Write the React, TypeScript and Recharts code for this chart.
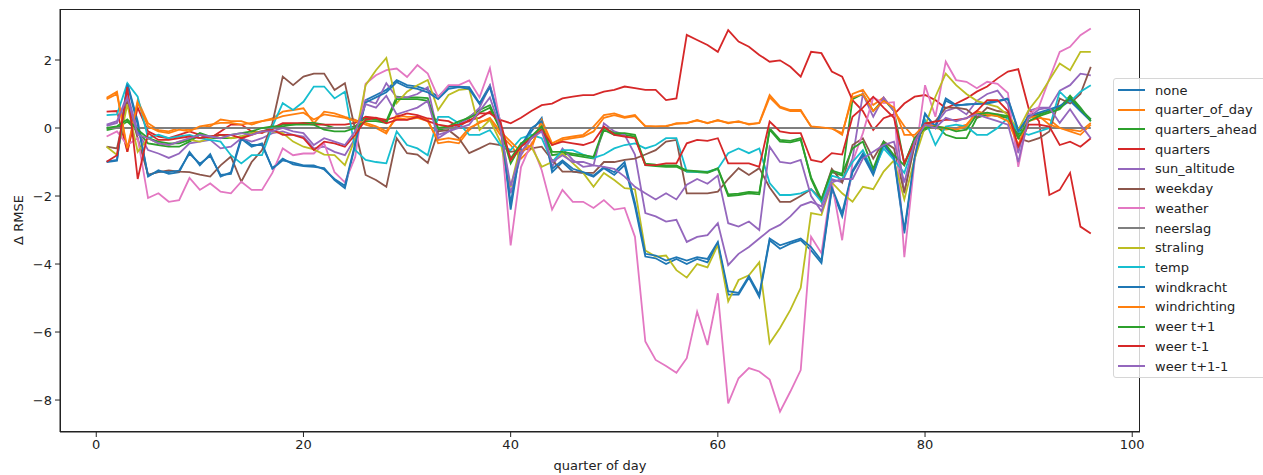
import { LineChart, Line, XAxis, YAxis } from 'recharts';

const quarter = [
  1, 2, 3, 4, 5, 6, 7, 8, 9, 10, 11, 12, 13, 14, 15, 16, 17, 18, 19, 20, 21, 22, 23, 24,
  25, 26, 27, 28, 29, 30, 31, 32, 33, 34, 35, 36, 37, 38, 39, 40, 41, 42, 43, 44, 45, 46, 47, 48,
  49, 50, 51, 52, 53, 54, 55, 56, 57, 58, 59, 60, 61, 62, 63, 64, 65, 66, 67, 68, 69, 70, 71, 72,
  73, 74, 75, 76, 77, 78, 79, 80, 81, 82, 83, 84, 85, 86, 87, 88, 89, 90, 91, 92, 93, 94, 95, 96,
];

const none = [
  -0.99, -0.94, 1.32, 0.2,
  -1.43, -1.24, -1.35, -1.3, -0.7, -1.1, -0.77, -1.43, -1.3, -0.27, -0.5, -0.5, -1.18,
  -0.9, -1.07, -1.12, -1.14, -1.18, -1.53, -1.77, -0.5,
  0.82, 0.97, 1.12, 1.41, 1.26, 1.22, 1.12, 0.92, 1.22, 1.22, 1.2, 0.73, 1.26, 0.2,
  -2.4, -0.5, -0.1, 0.3, -1.3, -1.0, -1.28, -1.32, -1.43, -1.18, -1.38, -1.09, -2.3,
  -3.78, -3.83, -4.0, -3.85, -4.0, -3.85, -3.95, -3.4, -4.9, -4.9, -4.4, -4.97, -3.3, -3.55, -3.4, -3.3, -3.6, -3.97, -1.8, -2.6,
  -1.3, -0.8, -1.38, -0.5, -0.9, -3.1, -0.9, 0.43, 0.0, 0.87, 0.68, 0.68, 0.72, 0.75, 0.8, 0.87, -0.06, 0.3, 0.4, 0.5, 0.6, 0.8, 0.5, 0.2,
];

const quarterOfDay = [
  0.89, 1.07, -0.7, 0.82,
  0.14, -0.06, -0.1, 0.0, -0.05, 0.0, 0.05, 0.25, 0.2, 0.2, 0.1, 0.2, 0.28,
  0.48, 0.53, 0.58, 0.14, 0.48, 0.43, 0.33, 0.24,
  0.1, 0.0, -0.16, 0.38, 0.33, 0.33, 0.25, -0.45, -0.4, -0.45, -0.06, 0.19, 0.24, -0.2,
  -0.5, -0.9, -0.6, 0.24, -0.45, -0.3, -0.25, -0.2, 0.04, 0.38, 0.43, 0.33, 0.38,
  0.04, 0.04, 0.04, 0.14, 0.14, 0.24, 0.14, 0.24, 0.14, 0.2, 0.1, 0.15, 0.97, 0.63, 0.53, 0.53, 0.04, 0.0, 0.0, -0.2,
  1.0, 1.12, 0.68, 0.9, 0.5, 0.05, -0.3, 0.04, 0.0, -0.05, 0.0, 0.1, 0.45, 0.35, 0.4, 0.3, -0.3, 0.2, 0.3, 0.25, 0.0, -0.05, -0.1, 0.15,
];

const quartersAhead = [
  -0.06, 0.0, 0.19, -0.1,
  -0.45, -0.5, -0.55, -0.55, -0.4, -0.2, -0.3, -0.3, -0.3, -0.25, -0.15, -0.1, 0.0,
  0.1, 0.1, 0.15, 0.15, 0.1, 0.0, 0.0, 0.05,
  0.3, 0.25, 0.2, 0.92, 0.9, 0.9, 0.88, -0.06, 0.0, 0.14, 0.33, 0.53, 0.67, 0.0,
  -1.04, -0.5, -0.3, 0.0, -0.8, -0.75, -0.8, -0.85, -0.9, -0.06, -0.2, -0.2, -0.25,
  -1.09, -1.12, -1.14, -1.14, -1.28, -1.3, -1.32, -1.2, -2.0, -1.97, -1.92, -1.95, -0.01, -0.35, -0.38, -0.3, -1.5, -2.17, -1.3, -1.4,
  0.85, 1.0, 0.5, 0.85, 0.5, -1.05, -0.3, -0.05, 0.1, -0.2, -0.3, -0.3, 0.3, 0.4, 0.35, 0.3, -0.2, 0.3, 0.4, 0.5, 0.6, 0.95, 0.6, 0.2,
];

const quarters = [
  0.48, 0.5, -0.7, 0.6,
  -0.1, -0.25, -0.3, -0.2, -0.1, -0.2, -0.3, -0.1, 0.1, 0.1, -0.1, -0.15, 0.0,
  0.14, 0.14, 0.14, 0.1, 0.1, 0.1, 0.1, 0.15,
  0.33, 0.3, 0.24, 0.33, 0.43, 0.38, 0.28, 0.24, 0.2, 0.04, 0.24, 0.3, 0.48, 0.24,
  0.14, 0.3, 0.5, 0.67, 0.72, 0.87, 0.92, 0.97, 0.97, 1.07, 1.12, 1.22, 1.17,
  1.12, 1.12, 0.82, 0.87, 2.74, 2.59, 2.44, 2.24, 2.88, 2.54, 2.39, 2.15, 1.95, 1.99, 1.8, 1.51, 2.24, 2.2, 1.66, 1.51,
  0.82, 0.5, -0.06, 0.29, 0.4, 0.72, 0.92, 0.97, 0.82, 0.58, 0.72, 0.87, 1.07, 1.22, 1.46, 1.66, 1.73, 0.58, 0.2, -1.97, -1.82, -1.32, -2.9, -3.1,
];

const sunAltitude = [
  0.06, 0.15, 1.0, -0.1,
  -0.65, -0.75, -0.88, -0.75, -0.45, -0.4, -0.35, -0.6, -0.55, -0.3, -0.4, -0.3, -0.15,
  -0.1, -0.2, -0.25, -0.6, -0.55, -0.7, -0.8, -0.3,
  0.82, 0.72, 1.32, 0.9, 0.9, 1.0, 1.2, -0.2, -0.1, 0.1, 0.3, 0.6, 1.25, 0.1,
  -1.92, -0.8, -0.3, 0.04, -1.14, -0.6, -0.94, -1.14, -1.1, 0.14, -0.1, -0.2, -0.78,
  -2.5, -2.6, -2.75, -2.7, -3.35, -3.2, -3.15, -2.8, -4.03, -3.7, -3.5, -3.25, -3.0, -2.85, -2.6, -2.28, -2.17, -2.3, -1.5, -1.6,
  -0.9, 1.0, 0.33, 0.9, 0.5, -1.92, -0.3, 0.1, 0.1, 0.5, 0.6, 0.4, 0.8, 1.0, 1.1, 0.7, -0.74, 0.5, 0.6, 0.6, 1.1, 1.26, 1.6, 1.55,
];

const weekday = [
  -0.55, -0.6, 0.8, -0.3,
  -1.37, -1.3, -1.25, -1.28, -1.3, -1.37, -1.43, -1.1, -0.84, -1.58, -1.0, -0.65, 0.14,
  1.51, 1.26, 1.51, 1.6, 1.6, 1.12, 1.32, -0.06,
  -1.38, -1.53, -1.73, -0.3, -0.74, -0.78, -1.03, -0.1, -0.06, -0.3, -0.74, -0.6, -0.45, -0.5,
  -0.7, -0.65, -0.6, -0.55, -0.94, -1.28, -1.28, -1.32, -1.32, -1.0, -1.0, -0.94, -0.9,
  -0.78, -0.65, -0.4, -0.35, -1.92, -1.92, -1.92, -1.87, -1.5, -1.18, -1.38, -1.18, -1.75, -2.17, -2.17, -2.0, -1.8, -2.1, -1.2, -1.6,
  -0.5, -0.3, -0.9, -0.4, -0.6, -1.9, -0.5, 0.1, 0.2, 0.6, 0.6, 0.55, 0.3, 0.6, 0.5, 0.45, -0.3, -0.4, -0.3, -0.1, 0.87, 0.72, 1.0, 1.8,
];

const weather = [
  -0.25, -0.1, -0.5, -0.3,
  -2.06, -1.92, -2.17, -2.12, -1.47, -1.82, -1.63, -1.87, -1.92, -1.58, -1.82, -1.82, -1.32,
  -0.6, -0.8, -0.75, -0.75, -0.45, -1.3, -1.6, -0.85,
  1.3, 1.55, 1.7, 1.75, 1.5, 1.85, 1.6, 0.9, 1.26, 1.26, 1.4, 0.9, 1.76, 0.15,
  -3.45, -1.15, -0.45, -1.24, -2.4, -1.82, -2.17, -2.17, -2.35, -2.12, -2.4, -2.35, -3.2,
  -6.28, -6.82, -7.0, -7.2, -6.77, -5.4, -6.38, -4.86, -8.1, -7.36, -7.06, -7.16, -7.4, -8.34, -7.75, -7.12, -3.2, -3.68, -1.6, -3.3,
  -1.0, -0.15, 0.9, 0.73, 0.76, -3.8, -0.95, 1.26, 0.33, 1.95, 1.41, 1.36, 1.17, 1.36, 1.3, 1.03, -1.14, 0.38, 0.63, 1.45, 2.24, 2.39, 2.73, 2.93,
];

const neerslag = [
  0, 0, 0, 0, 0, 0, 0, 0, 0, 0, 0, 0, 0, 0, 0, 0, 0, 0, 0, 0, 0, 0, 0, 0,
  0, 0, 0, 0, 0, 0, 0, 0, 0, 0, 0, 0, 0, 0, 0, 0, 0, 0, 0, 0, 0, 0, 0, 0,
  0, 0, 0, 0, 0, 0, 0, 0, 0, 0, 0, 0, 0, 0, 0, 0, 0, 0, 0, 0, 0, 0, 0, 0,
  0, 0, 0, 0, 0, 0, 0, 0, 0, 0, 0, 0, 0, 0, 0, 0, 0, 0, 0, 0, 0, 0, 0, 0,
];

const straling = [
  -0.55, -0.79, 0.7, -0.7,
  -0.3, -0.45, -0.5, -0.4, -0.35, -0.4, -0.3, -0.2, -0.3, -0.25, -0.15, -0.1, -0.1,
  -0.15, -0.4, -0.55, -0.63, -0.78, -0.8, -1.09, -0.3,
  1.26, 1.7, 2.06, 0.73, 1.07, 1.26, 1.41, 0.53, 0.97, 1.12, 1.15, -0.06, 0.24, -0.4,
  -1.73, -0.45, -0.55, -1.14, -1.0, -0.74, -1.03, -1.32, -1.73, -1.32, -1.53, -1.77, -1.8,
  -3.6, -3.78, -3.75, -4.18, -4.4, -4.0, -4.1, -3.44, -5.1, -4.47, -4.33, -3.95, -6.33, -5.88, -5.35, -4.7, -2.5, -2.56, -1.6, -1.92,
  -2.17, -1.73, -1.8, -1.28, -0.95, -2.1, -0.9, 0.04, 0.92, 1.6, 1.26, 1.0, 0.8, 0.7, 0.62, 0.38, -0.06, 0.53, 0.92, 1.41, 1.9, 1.7, 2.24, 2.24,
];

const temp = [
  0.38, 0.4, 1.32, 0.92,
  -0.3, -0.2, -0.3, -0.25, -0.2, -0.3, -0.35, -0.4, -0.8, -1.04, -0.8, -0.8, 0.04,
  0.73, 0.53, 0.77, 1.22, 1.22, 0.87, 1.07, -0.65,
  -0.94, -1.0, -1.04, -0.1, -0.5, -0.6, -0.8, 0.33, 0.33, 0.14, -0.2, -0.2, -0.06, -0.5,
  -0.65, -0.3, -0.2, -0.3, -1.0, -0.65, -0.65, -0.78, -0.88, -0.78, -0.6, -0.5, -0.45,
  -0.6, -0.5, -0.3, -0.3, -1.28, -1.28, -1.28, -1.2, -0.74, -0.6, -0.74, -0.6, -1.62, -1.97, -1.97, -1.92, -1.8, -2.17, -1.4, -1.5,
  -1.0, -0.65, -1.28, -0.6, -0.94, -1.32, -0.4, 0.24, -0.5, 0.04, 0.1, 0.04, -0.2, -0.2, 0.0, 0.3, -0.1, -0.2, -0.1, 0.0, 1.07, 0.77, 1.07, 1.26,
];

const windkracht = [
  -1.0, -0.96, 1.28, 0.1,
  -1.4, -1.28, -1.3, -1.25, -0.75, -1.05, -0.82, -1.38, -1.35, -0.32, -0.55, -0.45, -1.2,
  -0.95, -1.02, -1.1, -1.1, -1.22, -1.5, -1.7, -0.45,
  0.75, 0.9, 1.05, 1.35, 1.2, 1.15, 1.05, 0.85, 1.15, 1.2, 1.15, 0.7, 1.2, 0.1,
  -2.2, -0.55, 0.0, 0.2, -1.2, -0.95, -1.2, -1.3, -1.4, -1.15, -1.3, -1.0, -2.2,
  -3.7, -3.75, -3.9, -3.8, -3.9, -3.8, -3.85, -3.35, -4.8, -4.85, -4.35, -4.9, -3.25, -3.45, -3.35, -3.25, -3.5, -3.9, -1.75, -2.5,
  -1.25, -0.75, -1.3, -0.45, -0.85, -3.0, -0.85, 0.4, 0.05, 0.8, 0.65, 0.7, 0.7, 0.72, 0.78, 0.85, -0.1, 0.35, 0.45, 0.55, 0.65, 0.85, 0.55, 0.25,
];

const windrichting = [
  0.85, 1.0, -0.6, 0.75,
  0.05, -0.1, -0.15, -0.05, -0.1, 0.05, 0.1, 0.15, 0.15, 0.1, 0.15, 0.2, 0.25,
  0.35, 0.4, 0.45, 0.25, 0.4, 0.35, 0.3, 0.2,
  0.15, 0.05, -0.1, 0.3, 0.25, 0.3, 0.2, -0.35, -0.3, -0.35, 0.0, 0.15, 0.3, -0.1,
  -0.4, -0.7, -0.5, 0.1, -0.5, -0.35, -0.3, -0.25, -0.1, 0.3, 0.38, 0.3, 0.35,
  0.06, 0.05, 0.06, 0.12, 0.15, 0.22, 0.15, 0.22, 0.16, 0.18, 0.12, 0.14, 0.9, 0.6, 0.5, 0.5, 0.05, 0.02, -0.02, -0.15,
  0.9, 1.0, 0.5, 0.8, 0.6, -0.2, -0.2, 0.1, 0.05, 0.0, -0.05, 0.05, 0.5, 0.4, 0.35, 0.2, -0.5, 0.3, 0.35, 0.1, 0.0, -0.1, -0.2, 0.1,
];

const weerTplus1 = [
  0.0, 0.05, 0.25, -0.05,
  -0.3, -0.4, -0.45, -0.45, -0.35, -0.15, -0.25, -0.2, -0.2, -0.15, -0.1, 0.0, 0.05,
  0.05, 0.1, 0.1, 0.1, -0.05, -0.1, -0.1, 0.0,
  0.2, 0.2, 0.15, 0.85, 0.85, 0.85, 0.8, 0.0, 0.05, 0.2, 0.3, 0.45, 0.6, -0.05,
  -0.9, -0.45, -0.25, 0.05, -0.7, -0.7, -0.75, -0.8, -0.85, 0.0, -0.15, -0.15, -0.2,
  -1.05, -1.08, -1.1, -1.1, -1.25, -1.27, -1.3, -1.18, -1.95, -1.93, -1.88, -1.9, -0.05, -0.4, -0.42, -0.35, -1.45, -2.1, -1.25, -1.35,
  -0.6, -0.4, -1.2, -0.4, -0.8, -1.1, -0.3, 0.0, 0.05, 0.0, -0.1, -0.05, 0.4, 0.45, 0.4, 0.35, -0.3, 0.2, 0.35, 0.45, 0.55, 0.9, 0.55, 0.25,
];

const weerTmin1 = [
  -0.99, -0.8, 1.2, -1.5,
  -0.15, -0.35, -0.35, -0.3, -0.25, -0.3, -0.25, -0.2, -0.2, -0.3, -0.2, -0.1, -0.05,
  -0.2, -0.2, -0.3, -0.65, -0.4, -0.45, -0.55, -0.2,
  0.24, 0.3, 0.14, 0.24, 0.24, 0.33, 0.2, 0.1, 0.05, 0.1, 0.2, 0.43, 0.43, 0.2,
  -0.94, -0.55, -0.3, -0.06, -0.5, -0.4, -0.45, -0.5, -0.4, 0.04, -0.2, -0.25, -0.3,
  -1.09, -1.09, -1.04, -1.04, -0.45, -0.35, -0.38, -0.3, -1.04, -1.04, -1.04, -1.14, 0.19, -0.1, -0.15, -0.15, -0.94, -1.0, -0.74, -0.78,
  0.33, 0.6, 0.92, 0.6, 0.3, -1.03, -0.4, 0.14, 0.19, 0.24, 0.24, 0.28, 0.5, 0.82, 0.82, 0.5, -0.55, 0.1, 0.1, 0.04, -0.5, -0.4, -0.55, -0.3,
];

const weerTplus1min1 = [
  0.1, 0.2, 0.9, -0.2,
  -0.3, -0.45, -0.5, -0.4, -0.3, -0.2, -0.25, -0.3, -0.2, -0.15, -0.2, -0.1, -0.1,
  0.0, -0.1, -0.15, -0.5, -0.3, -0.4, -0.5, -0.1,
  0.7, 0.6, 0.95, 0.4, 0.5, 0.6, 0.8, -0.3, -0.1, 0.0, 0.1, 0.5, 0.9, 0.0,
  -1.7, -0.7, -0.3, -0.1, -1.0, -0.8, -1.0, -1.0, -1.1, -1.14, -1.2, -1.43, -1.73,
  -1.92, -2.1, -1.92, -2.1, -1.67, -1.5, -1.64, -1.4, -2.8, -2.9, -2.75, -3.0, -0.55, -1.0, -1.04, -0.94, -2.0, -2.45, -1.6, -1.5,
  -1.5, -0.9, -0.7, -0.5, -0.4, -1.6, -0.4, 0.1, 0.0, 0.3, 0.2, 0.3, 0.4, 0.3, 0.2, 0.1, -1.0, 0.3, 0.55, 0.6, 0.15, 0.55, 0.1, -0.3,
];

const series = [
  { key: 'none', name: 'none', color: '#1f77b4', values: none },
  { key: 'quarter_of_day', name: 'quarter_of_day', color: '#ff7f0e', values: quarterOfDay },
  { key: 'quarters_ahead', name: 'quarters_ahead', color: '#2ca02c', values: quartersAhead },
  { key: 'quarters', name: 'quarters', color: '#d62728', values: quarters },
  { key: 'sun_altitude', name: 'sun_altitude', color: '#9467bd', values: sunAltitude },
  { key: 'weekday', name: 'weekday', color: '#8c564b', values: weekday },
  { key: 'weather', name: 'weather', color: '#e377c2', values: weather },
  { key: 'neerslag', name: 'neerslag', color: '#7f7f7f', values: neerslag },
  { key: 'straling', name: 'straling', color: '#bcbd22', values: straling },
  { key: 'temp', name: 'temp', color: '#17becf', values: temp },
  { key: 'windkracht', name: 'windkracht', color: '#1f77b4', values: windkracht },
  { key: 'windrichting', name: 'windrichting', color: '#ff7f0e', values: windrichting },
  { key: 'weer_tp1', name: 'weer t+1', color: '#2ca02c', values: weerTplus1 },
  { key: 'weer_tm1', name: 'weer t-1', color: '#d62728', values: weerTmin1 },
  { key: 'weer_tp1m1', name: 'weer t+1-1', color: '#9467bd', values: weerTplus1min1 },
];

const data = quarter.map((q, i) => {
  const row: Record<string, number> = { q };
  series.forEach(s => { row[s.key] = s.values[i]; });
  return row;
});

const FONT = 'DejaVu Sans';
const fmt = (v: number) => (v < 0 ? '\u2212' + Math.abs(v) : String(v));

export default function App() {
  return (
    <div style={{ position: 'absolute', left: 0, top: 0, width: 1263, height: 475, overflow: 'hidden', background: '#fff', fontFamily: FONT }}>
      <LineChart width={1263} height={475} data={data} margin={{ top: 9, right: 123, bottom: 0, left: 0 }}>
        <XAxis
          dataKey="q" type="number" domain={[-3.5, 100.75]} ticks={[0, 20, 40, 60, 80, 100]} allowDataOverflow
          height={43} tickSize={5} tickMargin={3} stroke="#222" tickFormatter={fmt}
          tick={{ fill: '#222', fontSize: 13, fontFamily: FONT }}
          label={{
            content: () => (
              <text x={600} y={465} textAnchor="middle" dominantBaseline="central" fontSize={13} fontFamily={FONT} fill="#222">
                quarter of day
              </text>
            ),
          }}
        />
        <YAxis
          type="number" domain={[-8.94, 3.5]} ticks={[-8, -6, -4, -2, 0, 2]} allowDataOverflow
          width={60} tickSize={5} tickMargin={3} stroke="#222" tickFormatter={fmt}
          tick={{ fill: '#222', fontSize: 13, fontFamily: FONT }}
          label={{
            content: () => (
              <text x={18} y={220} transform="rotate(-90 18 220)" textAnchor="middle" dominantBaseline="central" fontSize={13} fontFamily={FONT} fill="#222">
                Δ RMSE
              </text>
            ),
          }}
        />
        {series.map(s => (
          <Line
            key={s.key} dataKey={s.key} name={s.name} type="linear" stroke={s.color}
            strokeWidth={1.8} dot={false} activeDot={false} isAnimationActive={false}
          />
        ))}
      </LineChart>
      {/* axes frame (matplotlib spines) */}
      <div style={{ position: 'absolute', left: 60, top: 9, width: 1080, height: 423, boxSizing: 'border-box', border: '1px solid #222', pointerEvents: 'none' }} />
      <div style={{ position: 'absolute', left: 1113, top: 78, width: 200, height: 298, border: '1px solid #d6d6d6', borderRadius: 3, background: 'rgba(255,255,255,0.8)' }}>
        {series.map((s, k) => (
          <div key={s.key} style={{ position: 'absolute', left: 4, top: 1 + k * 19.72, height: 20, display: 'flex', alignItems: 'center', whiteSpace: 'nowrap' }}>
            <div style={{ width: 27, height: 2, background: s.color }} />
            <span style={{ marginLeft: 10, fontSize: 13, color: '#222' }}>{s.name}</span>
          </div>
        ))}
      </div>
    </div>
  );
}
